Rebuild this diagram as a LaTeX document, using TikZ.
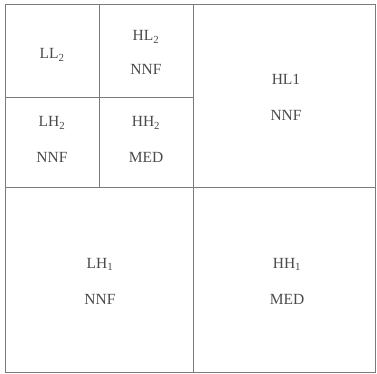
\documentclass[tikz,border=0pt]{standalone}
\usepackage{fontspec}
\setmainfont{Liberation Serif}
\definecolor{rule}{HTML}{7a7a7a}
\definecolor{txt}{HTML}{4a4a4a}

\begin{document}
\begin{tikzpicture}[x=1pt, y=-1pt, font=\fontsize{15.5}{18}\selectfont,
  cell/.style={draw=rule, line width=0.8pt},
  lbl/.style={text=txt, anchor=base, inner sep=0pt}
]
  \useasboundingbox (0,0) rectangle (377,374);
  % outer frame and quadrant split
  \draw[cell] (5,4) rectangle (375,372);
  \draw[cell] (193,4) -- (193,372);
  \draw[cell] (5,187) -- (375,187);
  % second level split of the top left quadrant
  \draw[cell] (99,4) -- (99,187);
  \draw[cell] (5,97) -- (193,97);
  % band names and labels
  \node[lbl] (ll2) at (52,59) {LL\textsubscript{2}};
  \node[lbl] (hl2) at (146,41) {HL\textsubscript{2}};
  \node[lbl] (hl2t) at (146,75) {NNF};
  \node[lbl] (lh2) at (52,127) {LH\textsubscript{2}};
  \node[lbl] (lh2t) at (52,163) {NNF};
  \node[lbl] (hh2) at (146,127) {HH\textsubscript{2}};
  \node[lbl] (hh2t) at (146,163) {MED};
  \node[lbl] (hl1) at (286,85) {HL1};
  \node[lbl] (hl1t) at (286,121) {NNF};
  \node[lbl] (lh1) at (100,268) {LH\textsubscript{1}};
  \node[lbl] (lh1t) at (100,304) {NNF};
  \node[lbl] (hh1) at (287,268) {HH\textsubscript{1}};
  \node[lbl] (hh1t) at (287,304) {MED};
\end{tikzpicture}
\end{document}
